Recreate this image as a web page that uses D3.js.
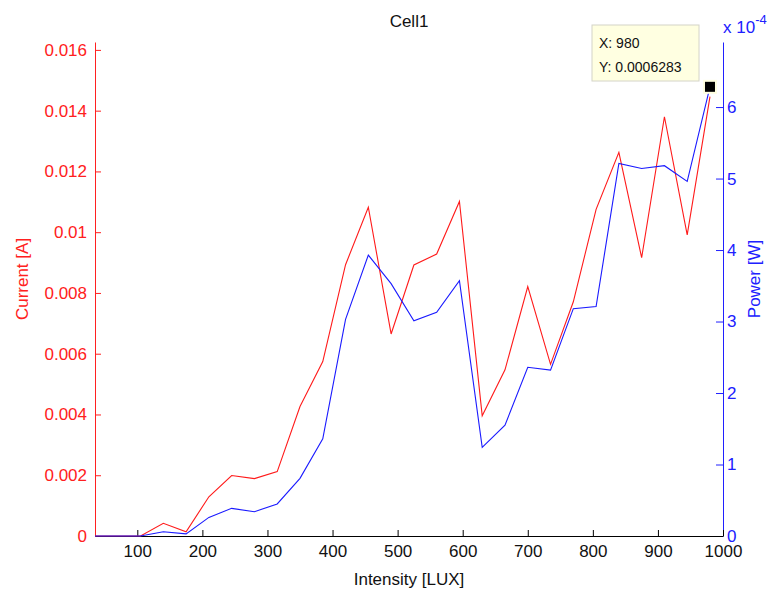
<!DOCTYPE html>
<html>
<head>
<meta charset="utf-8">
<script src="https://cdn.jsdelivr.net/npm/d3@7"></script>
<style>
  body { margin: 0; background: #fff; }
  svg { display: block; font-family: "Liberation Sans", Arial, sans-serif; }
  .tick text { font-size: 17px; }
</style>
</head>
<body>
<figure style="margin:0"></figure>
<script>
const WIDTH = 771
const HEIGHT = 592

// intensity [LUX]
const intensity = [35, 70, 105, 140, 175, 210, 245, 280, 315, 350, 385, 420, 455, 490,
  525, 560, 595, 630, 665, 700, 735, 770, 805, 840, 875, 910, 945, 980]
// current [A]
const current = [0, 0, 0, 0.00042, 0.00014, 0.00129, 0.00199, 0.00189, 0.00212, 0.00426,
  0.00574, 0.00893, 0.01082, 0.00665, 0.00892, 0.00928, 0.01101, 0.00396, 0.00547, 0.00821,
  0.00565, 0.00771, 0.01075, 0.01263, 0.00916, 0.0138, 0.00991, 0.01446]
// power [W]
const power = [0, 0, 0, 0.000006, 0.000003, 0.000026, 0.0000387, 0.000034, 0.0000448, 0.0000807,
  0.000136, 0.000303, 0.000393, 0.000353, 0.000301, 0.000313, 0.000357, 0.000124, 0.000155, 0.000236,
  0.000232, 0.000318, 0.000321, 0.000521, 0.000514, 0.000518, 0.000496, 0.0006283]

const xTicks = [100, 200, 300, 400, 500, 600, 700, 800, 900, 1000]
const currentTicks = [0, 0.002, 0.004, 0.006, 0.008, 0.01, 0.012, 0.014, 0.016]
const powerTicks = [0, 1, 2, 3, 4, 5, 6] // x 10^-4

const margin = { top: 42, right: 48, bottom: 56, left: 95 }
const plotW = WIDTH - margin.left - margin.right
const plotH = HEIGHT - margin.top - margin.bottom

const x = d3.scaleLinear().domain([35, 1000]).range([0, plotW])
const yL = d3.scaleLinear().domain([0, 0.01626]).range([plotH, 0])
const yR = d3.scaleLinear().domain([0, 6.91]).range([plotH, 0])

const svg = d3.select('figure').append('svg')
  .attr('width', WIDTH)
  .attr('height', HEIGHT)

const g = svg.append('g')
  .attr('transform', `translate(${margin.left},${margin.top})`)

const fmtL = d => d === 0 ? '0' : String(+d.toFixed(3))

// left axis (red)
const axL = g.append('g')
  .call(d3.axisLeft(yL).tickValues(currentTicks).tickFormat(fmtL).tickSizeInner(-6).tickSizeOuter(0).tickPadding(8))
axL.select('.domain').attr('stroke', '#ff2020')
axL.selectAll('.tick line').attr('stroke', '#ff2020')
axL.selectAll('.tick text').attr('fill', '#ff2020')

// right axis (blue)
const axR = g.append('g')
  .attr('transform', `translate(${plotW},0)`)
  .call(d3.axisRight(yR).tickValues(powerTicks).tickFormat(d3.format('d')).tickSizeInner(-7).tickSizeOuter(0).tickPadding(4))
axR.select('.domain').attr('stroke', '#2020ff')
axR.selectAll('.tick line').attr('stroke', '#2020ff')
axR.selectAll('.tick text').attr('fill', '#2020ff')

// bottom axis
const axB = g.append('g')
  .attr('transform', `translate(0,${plotH})`)
  .call(d3.axisBottom(x).tickValues(xTicks).tickFormat(d3.format('d')).tickSizeInner(-6).tickSizeOuter(0).tickPadding(9))
axB.select('.domain').attr('stroke', '#000')
axB.selectAll('.tick line').attr('stroke', '#000')
axB.selectAll('.tick text').attr('fill', '#111')

const lineL = d3.line().x((d, i) => x(intensity[i])).y(d => yL(d))
const lineR = d3.line().x((d, i) => x(intensity[i])).y(d => yR(d / 1e-4))

g.append('path').datum(current)
  .attr('d', lineL).attr('fill', 'none').attr('stroke', '#ff1a1a').attr('stroke-width', 1.1)
g.append('path').datum(power)
  .attr('d', lineR).attr('fill', 'none').attr('stroke', '#1a1aff').attr('stroke-width', 1.1)

// title and labels
svg.append('text')
  .attr('x', margin.left + plotW / 2).attr('y', 27)
  .attr('text-anchor', 'middle').attr('font-size', 17).attr('fill', '#111')
  .text('Cell1')

svg.append('text')
  .attr('x', margin.left + plotW / 2).attr('y', 585)
  .attr('text-anchor', 'middle').attr('font-size', 17).attr('fill', '#111')
  .text('Intensity [LUX]')

svg.append('text')
  .attr('transform', `translate(28,${margin.top + plotH / 2 - 10}) rotate(-90)`)
  .attr('text-anchor', 'middle').attr('font-size', 17).attr('fill', '#ff2020')
  .text('Current [A]')

svg.append('text')
  .attr('transform', `translate(760,${margin.top + plotH / 2 - 10}) rotate(-90)`)
  .attr('text-anchor', 'middle').attr('font-size', 17).attr('fill', '#2020ff')
  .text('Power [W]')

const exp = svg.append('text')
  .attr('x', margin.left + plotW).attr('y', 33)
  .attr('font-size', 17).attr('fill', '#2020ff')
exp.append('tspan').text('x 10')
exp.append('tspan').attr('dy', -9).attr('font-size', 13).text('-4')

// data tip on last point
const last = intensity.length - 1
const px = margin.left + x(intensity[last])
const py = margin.top + yR(power[last] / 1e-4)
svg.append('rect')
  .attr('x', px - 7).attr('y', py - 7).attr('width', 14).attr('height', 14)
  .attr('fill', '#ffffe1')
svg.append('rect')
  .attr('x', px - 5).attr('y', py - 5).attr('width', 10).attr('height', 10)
  .attr('fill', '#000')

const tip = svg.append('g').attr('transform', 'translate(592,25)')
tip.append('rect')
  .attr('width', 107).attr('height', 56)
  .attr('fill', '#ffffe1').attr('stroke', '#d4d4c8')
tip.append('text').attr('x', 7).attr('y', 23).attr('font-size', 14).attr('fill', '#111')
  .text('X: ' + intensity[last])
tip.append('text').attr('x', 7).attr('y', 47).attr('font-size', 14).attr('fill', '#111')
  .text('Y: ' + power[last])
</script>
</body>
</html>
